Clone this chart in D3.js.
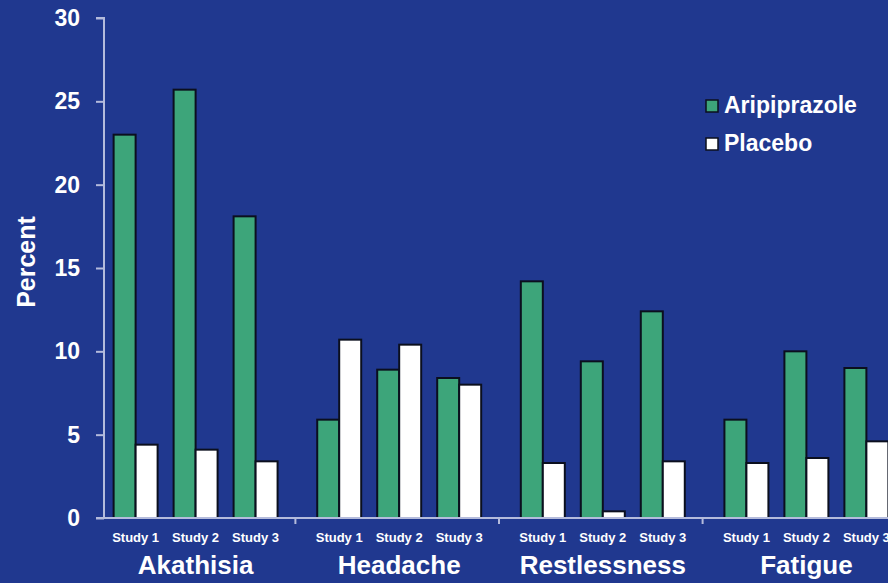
<!DOCTYPE html>
<html>
<head>
<meta charset="utf-8">
<script src="https://cdn.jsdelivr.net/npm/d3@7"></script>
<style>
  html, body { margin: 0; padding: 0; background: #20388f; overflow: hidden; }
  svg { display: block; }
  text { font-family: "Liberation Sans", Arial, sans-serif; font-weight: bold; fill: #ffffff; }
</style>
</head>
<body>
<script>
// Adverse events by study: percent of patients
const categories = ["Akathisia", "Headache", "Restlessness", "Fatigue"];
const studies = ["Study 1", "Study 2", "Study 3"];
const seriesNames = ["Aripiprazole", "Placebo"];
const aripiprazole = [
  [23.0, 25.7, 18.1],
  [5.9, 8.9, 8.4],
  [14.2, 9.4, 12.4],
  [5.9, 10.0, 9.0]
];
const placebo = [
  [4.4, 4.1, 3.4],
  [10.7, 10.4, 8.0],
  [3.3, 0.4, 3.4],
  [3.3, 3.6, 4.6]
];
const yTicks = [0, 5, 10, 15, 20, 25, 30];

const W = 888, H = 583;
const colors = { "Aripiprazole": "#3da57a", "Placebo": "#ffffff" };
const axisColor = "#b4bbdc";

const svg = d3.select("body").append("svg").attr("width", W).attr("height", H);
svg.append("rect").attr("width", W).attr("height", H).attr("fill", "#20388f");

const y = d3.scaleLinear().domain([0, 30]).range([518, 18]);
const x0 = d3.scaleBand().domain(categories).range([93.8, 908.2]).padding(0);
const x1 = d3.scaleBand().domain(studies).range([0, x0.bandwidth()]).paddingInner(0).paddingOuter(0.197);
const x2 = d3.scaleBand().domain(seriesNames).range([0, x1.bandwidth()]).paddingInner(0).paddingOuter(0.364);

// Flatten into bar records
const rows = [];
categories.forEach((c, ci) => {
  studies.forEach((s, si) => {
    rows.push({ cat: c, study: s, series: "Aripiprazole", value: aripiprazole[ci][si] });
    rows.push({ cat: c, study: s, series: "Placebo", value: placebo[ci][si] });
  });
});

// Bars
svg.append("g").selectAll("rect").data(rows).join("rect")
  .attr("x", d => x0(d.cat) + x1(d.study) + x2(d.series))
  .attr("y", d => y(d.value))
  .attr("width", x2.bandwidth())
  .attr("height", d => y(0) - y(d.value))
  .attr("fill", d => colors[d.series])
  .attr("stroke", "#0b0f1e")
  .attr("stroke-width", 2);

// Y axis
const yAxis = d3.axisLeft(y).tickValues(yTicks).tickSize(8).tickPadding(16).tickFormat(d3.format("d"));
const gy = svg.append("g").attr("transform", "translate(104,0)").call(yAxis);
gy.select(".domain").attr("stroke", axisColor).attr("stroke-width", 2).attr("d", "M-8,18H0V518H-8");
gy.selectAll(".tick line").attr("stroke", axisColor).attr("stroke-width", 2);
gy.selectAll(".tick text").attr("fill", "#fff").style("font-size", "23px").style("font-weight", "bold")
  .style("font-family", "'Liberation Sans', Arial, sans-serif");

// X axis baseline with group separators
svg.append("line").attr("x1", 104).attr("x2", W).attr("y1", y(0)).attr("y2", y(0))
  .attr("stroke", axisColor).attr("stroke-width", 2);
svg.append("g").selectAll("line").data(categories.slice(1)).join("line")
  .attr("x1", d => x0(d) - 2).attr("x2", d => x0(d) - 2)
  .attr("y1", y(0)).attr("y2", y(0) + 6)
  .attr("stroke", axisColor).attr("stroke-width", 2);

// Study labels
const studyLabels = [];
categories.forEach(c => studies.forEach(s => studyLabels.push({ cat: c, study: s })));
svg.append("g").selectAll("text").data(studyLabels).join("text")
  .attr("x", d => x0(d.cat) + x1(d.study) + x1.bandwidth() / 2)
  .attr("y", 542)
  .attr("text-anchor", "middle")
  .style("font-size", "13px")
  .text(d => d.study);

// Category labels
svg.append("g").selectAll("text").data(categories).join("text")
  .attr("x", d => x0(d) + x0.bandwidth() / 2)
  .attr("y", 574)
  .attr("text-anchor", "middle")
  .style("font-size", "26px")
  .text(d => d);

// Y axis title
svg.append("text")
  .attr("transform", "translate(35,262) rotate(-90)")
  .attr("text-anchor", "middle")
  .style("font-size", "25px")
  .text("Percent");

// Legend
const legend = svg.append("g").attr("transform", "translate(706,100)");
const li = legend.selectAll("g").data(seriesNames).join("g")
  .attr("transform", (d, i) => `translate(0,${i * 38})`);
li.append("rect").attr("width", 12).attr("height", 12)
  .attr("fill", d => colors[d]).attr("stroke", "#0b0f1e").attr("stroke-width", 1.5);
li.append("text").attr("x", 18).attr("y", 13).style("font-size", "23px").text(d => d);
</script>
</body>
</html>
